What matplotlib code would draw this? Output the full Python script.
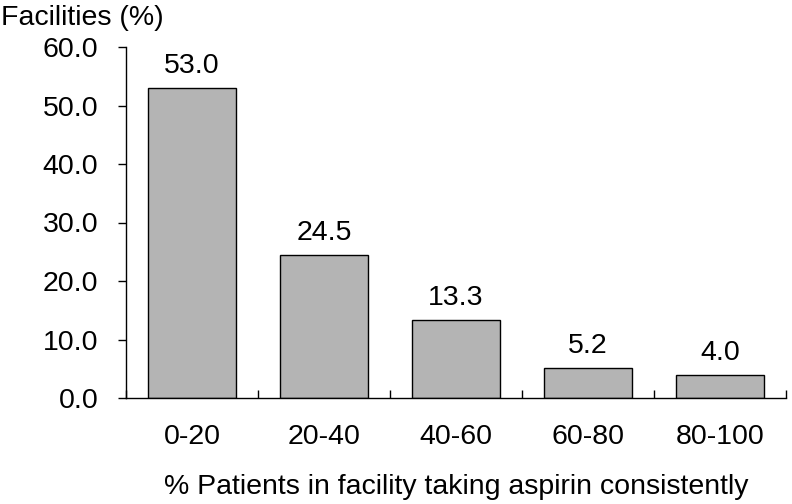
import matplotlib
matplotlib.use("Agg")
import matplotlib.pyplot as plt
import numpy as np

categories = ["0-20", "20-40", "40-60", "60-80", "80-100"]
values = [53.0, 24.5, 13.3, 5.2, 4.0]
yticks = [0, 10, 20, 30, 40, 50, 60]

plt.rcParams['font.family'] = ['Liberation Sans', 'DejaVu Sans']
FS = 20.5

fig = plt.figure(figsize=(7.92, 5.04), dpi=100)
ax = fig.add_axes([126/792, 106/504, 660/792, 351/504])

x = np.arange(len(categories))
bars = ax.bar(x, values, width=0.667, color="#b4b4b4", edgecolor="black", linewidth=1.0)
for xi, v in zip(x, values):
    ax.annotate(f"{v:.1f}", (xi, v), xytext=(0, 6.5), textcoords="offset points",
                ha="center", va="bottom", fontsize=FS)

ax.set_xlim(-0.5, len(categories) - 0.5)
ax.set_ylim(0, 60)
ax.set_yticks(yticks)
ax.set_yticklabels([f"{t:.1f}" for t in yticks])
ax.tick_params(axis="y", direction="out", length=6, width=1.0, pad=14, labelsize=FS)

ax.set_xticks(x)
ax.set_xticklabels(categories)
ax.set_xticks(np.arange(len(categories) + 1) - 0.5, minor=True)
ax.tick_params(axis="x", which="major", length=0, pad=19, labelsize=FS)
ax.tick_params(axis="x", which="minor", direction="in", length=6, width=1.0)

for s in ["top", "right"]:
    ax.spines[s].set_visible(False)
for s in ["left", "bottom"]:
    ax.spines[s].set_linewidth(1.0)

ax.set_xlabel("% Patients in facility taking aspirin consistently", fontsize=FS, labelpad=17)
fig.text(1/792, 1 - 18/504, "Facilities (%)", fontsize=FS, ha="left", va="center")

fig.savefig("out.png", dpi=100)
